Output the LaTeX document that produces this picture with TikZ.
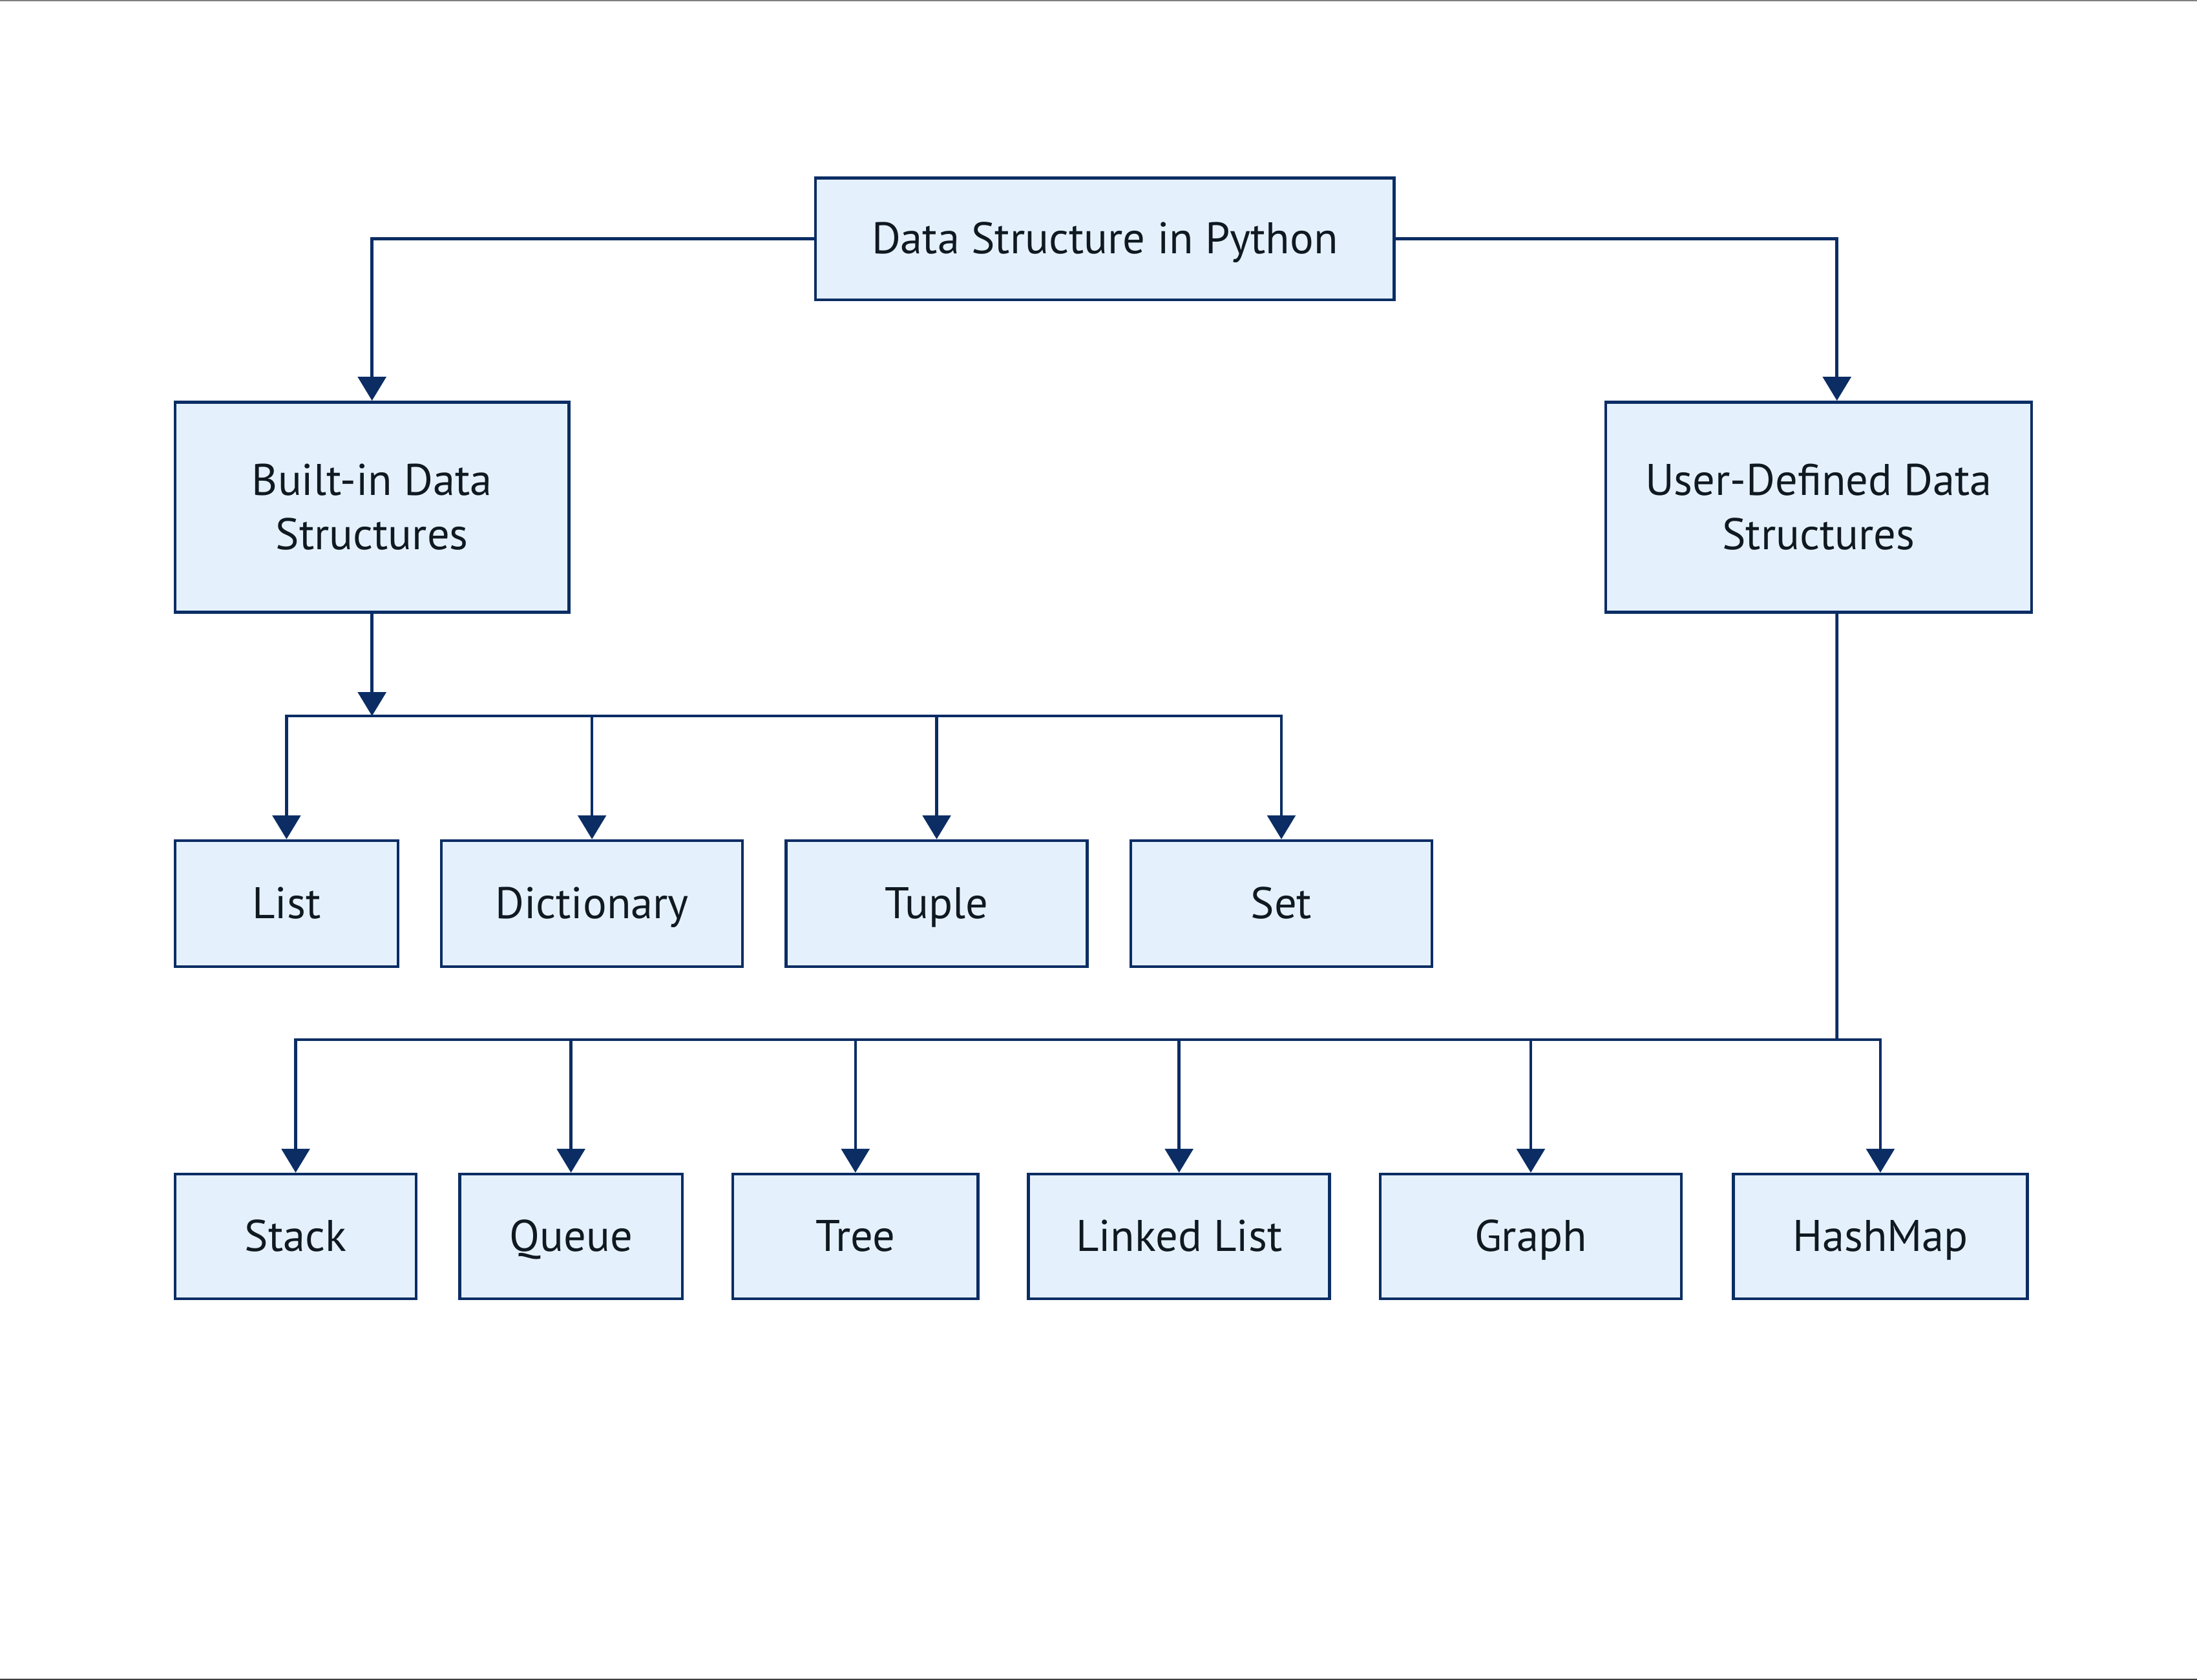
\documentclass[tikz,border=0pt]{standalone}
\usepackage{fontspec}
\setmainfont{PT Sans}
\usetikzlibrary{arrows.meta,positioning}
\definecolor{navy}{HTML}{0B2D64}
\definecolor{boxfill}{HTML}{E4F1FD}
\definecolor{ink}{HTML}{101820}

\begin{document}
\begin{tikzpicture}[x=0.02cm,y=-0.02cm,
	box/.style={draw=navy,fill=boxfill,line width=1.2pt,rectangle,text=ink,
		font=\fontsize{18}{22}\selectfont,align=center,inner sep=0pt},
	leaf/.style={box,text height=12pt,text depth=0pt},
	link/.style={draw=navy,line width=1.2pt},
	arr/.style={link,-{Triangle[width=0.4cm,length=0.34cm]}}]
	\useasboundingbox (0,0) rectangle (1568,1199);
	\draw[gray,line width=0.6pt] (0,0.5) -- (1568,0.5);
	\draw[black!75,line width=0.6pt] (0,1198.5) -- (1568,1198.5);

	% top levels
	\node (root) [leaf,minimum width=8.26cm,minimum height=1.74cm] at (788.5,170.5) {Data Structure in Python};
	\node (builtin) [box,minimum width=5.62cm,minimum height=3cm] at (265.5,362) {Built-in Data\\Structures};
	\node (userdef) [box,minimum width=6.08cm,minimum height=3cm] at (1298,362) {User-Defined Data\\Structures};

	% built-in row
	\node (list) [leaf,minimum width=3.18cm,minimum height=1.8cm] at (204.5,645) {List};
	\node (dict) [leaf,minimum width=4.3cm,minimum height=1.8cm] at (422.5,645) {Dictionary};
	\node (tuple) [leaf,minimum width=4.3cm,minimum height=1.8cm] at (668.5,645) {Tuple};
	\node (set) [leaf,minimum width=4.3cm,minimum height=1.8cm] at (914.5,645) {Set};

	% user-defined row
	\node (stack) [leaf,minimum width=3.44cm,minimum height=1.78cm] at (211,882.5) {Stack};
	\node (queue) [leaf,minimum width=3.18cm,minimum height=1.78cm] at (407.5,882.5) {Queue};
	\node (tree) [leaf,minimum width=3.5cm,minimum height=1.78cm] at (610.5,882.5) {Tree};
	\node (llist) [leaf,minimum width=4.3cm,minimum height=1.78cm] at (841.5,882.5) {Linked List};
	\node (graph) [leaf,minimum width=4.3cm,minimum height=1.78cm] at (1092.5,882.5) {Graph};
	\node (hashmap) [leaf,minimum width=4.2cm,minimum height=1.78cm] at (1342,882.5) {HashMap};

	\coordinate (busa) at (265.5,511);
	\coordinate (busb) at (1311,742);

	\draw[arr] (root.west) -| (builtin.north);
	\draw[arr] (root.east) -| ([xshift=0.26cm]userdef.north);
	\draw[arr] (builtin.south) -- (busa);
	\draw[link] ([xshift=0.26cm]userdef.south) -- (busb);
	\foreach \n in {list,dict,tuple,set}
		\draw[arr] (busa) -| (\n.north);
	\foreach \n in {stack,queue,tree,llist,graph,hashmap}
		\draw[arr] (busb) -| (\n.north);
\end{tikzpicture}
\end{document}
